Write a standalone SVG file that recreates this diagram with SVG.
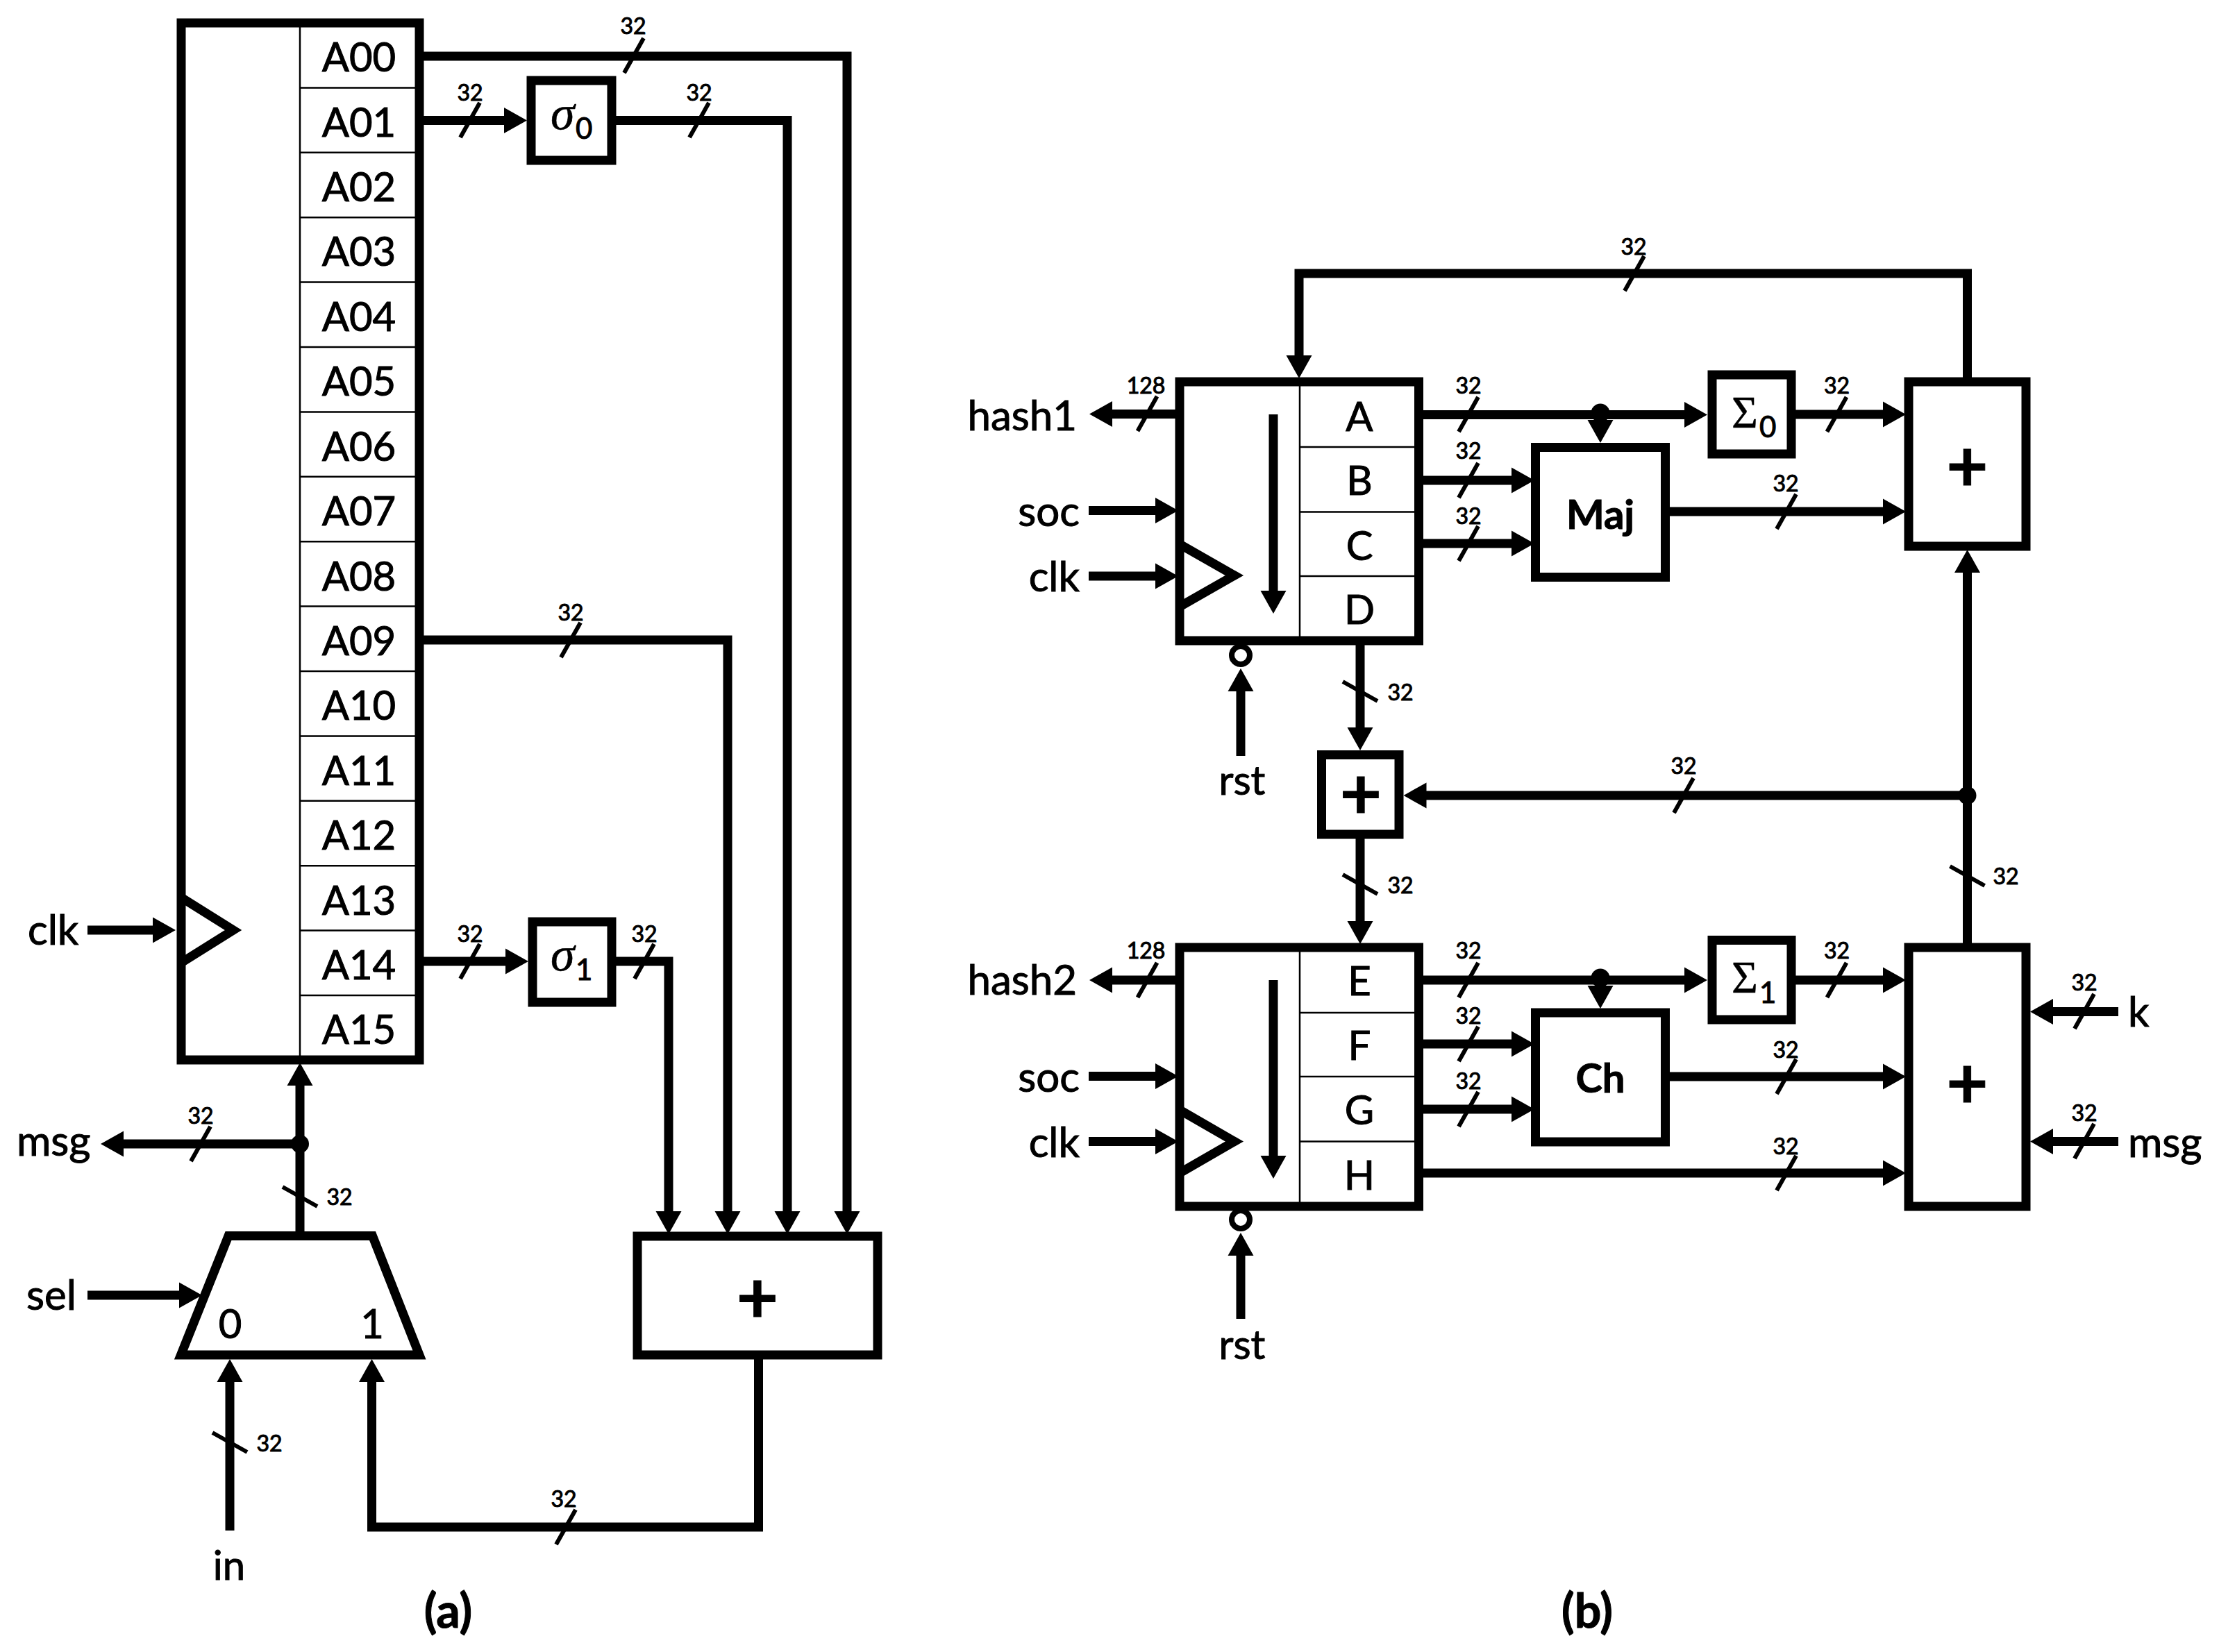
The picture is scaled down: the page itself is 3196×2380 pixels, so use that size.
<svg xmlns="http://www.w3.org/2000/svg" width="3196" height="2380" viewBox="0 0 3196 2380">
<style>
text{font-family:Lato,"Open Sans","Liberation Sans",sans-serif;fill:#000;stroke:#000;stroke-width:1px}
.box{fill:#fff;stroke:#000;stroke-width:13;stroke-linejoin:miter}
.thin{stroke:#000;stroke-width:2.5;fill:none}
.tri{fill:none;stroke:#000;stroke-width:13}
.w{fill:none;stroke:#000;stroke-width:13;stroke-linejoin:miter;marker-end:url(#ah)}
.tk{stroke:#000;stroke-width:6;fill:none}
.l{font-size:58px;text-anchor:middle}
.s{font-size:32px;text-anchor:middle}
.io{font-size:60px}
.e{text-anchor:end}
.b{font-weight:700;text-anchor:middle}
.dot{fill:#000}
.g{font-family:"Liberation Serif",serif;stroke-width:.5px}
.i{font-style:italic;font-size:70px}
.S{font-size:65px}
.u{font-size:42px}
</style>
<defs>
<marker id="ah" markerUnits="userSpaceOnUse" markerWidth="36" markerHeight="38" refX="13" refY="19" orient="auto"><path d="M0,0.500 L33,19 L0,37.500 z" fill="#000"/></marker>
<path id="f" class="tk" d="M-14,25 L14,-25"/>
<path id="r" class="tk" d="M-25,-14 L25,14"/>
</defs>
<rect width="3196" height="2380" fill="#fff"/>

<g id="connectors">
<path class="w" d="M598,81 H1220 V1758"/>
<path class="w" d="M604,173.500 H739"/>
<path class="w" d="M881,173.500 H1134 V1758"/>
<path class="w" d="M604,922 H1048 V1758"/>
<path class="w" d="M604,1385 H741"/>
<path class="w" d="M881,1385 H963 V1758"/>
<path class="w" d="M1092.500,1952 V2200 H535.500 V1978"/>
<path class="w" d="M331,2205 V1978"/>
<path class="w" d="M126,1866 H271"/>
<path class="w" d="M126,1340 H233"/>
<path class="w" d="M432,1648 H165"/>
<path class="w" d="M432,1780 V1551"/>
<path class="w" d="M395,1486 V101"/>
<circle class="dot" cx="432" cy="1648" r="13"/>

<path class="w" d="M2833.500,550 V394 H1871 V525"/>
<path class="w" d="M1699,596.500 H1589"/>
<path class="w" d="M1568,735.500 H1677"/>
<path class="w" d="M1568,830 H1677"/>
<path class="w" d="M1787,1089 V983"/>
<path class="w" d="M1959,923 V1061"/>
<path class="w" d="M2833.500,1365 V812"/>
<path class="w" d="M2833.500,1146 H2041.500"/>
<circle class="dot" cx="2833.500" cy="1146" r="13"/>
<path class="w" d="M2043.500,597.500 H2439"/>
<circle class="dot" cx="2305" cy="595" r="13.500"/>
<path class="w" d="M2305,596 V618"/>
<path class="w" d="M2581,597 H2725"/>
<path class="w" d="M2043.500,692 H2190"/>
<path class="w" d="M2043.500,783 H2190"/>
<path class="w" d="M2397,737 H2725"/>

<path class="w" d="M1959,1204 V1340"/>
<path class="w" d="M1699,1412 H1589"/>
<path class="w" d="M1568,1550.500 H1677"/>
<path class="w" d="M1568,1644.500 H1677"/>
<path class="w" d="M1787,1900 V1796"/>
<path class="w" d="M2043.500,1412 H2439"/>
<circle class="dot" cx="2305" cy="1409" r="13.500"/>
<path class="w" d="M2305,1410 V1433"/>
<path class="w" d="M2581,1412 H2725"/>
<path class="w" d="M2043.500,1504 H2190"/>
<path class="w" d="M2043.500,1598 H2190"/>
<path class="w" d="M2397,1551 H2725"/>
<path class="w" d="M2043.500,1690 H2725"/>
<path class="w" d="M3051,1457.500 H2944"/>
<path class="w" d="M3051,1644.500 H2944"/>
</g>

<g id="buswidths">
<use href="#f" x="913" y="80"/><text class="s" x="912" y="49">32</text>
<use href="#f" x="677" y="173"/><text class="s" x="677" y="145">32</text>
<use href="#f" x="1007" y="173"/><text class="s" x="1007" y="145">32</text>
<use href="#r" x="395" y="785"/><text class="s" x="335" y="798">32</text>
<use href="#f" x="822" y="922"/><text class="s" x="822" y="894">32</text>
<use href="#f" x="677" y="1385"/><text class="s" x="677" y="1357">32</text>
<use href="#f" x="928" y="1385"/><text class="s" x="928" y="1357">32</text>
<use href="#f" x="289" y="1648"/><text class="s" x="289" y="1619">32</text>
<use href="#r" x="432" y="1724"/><text class="s" x="489" y="1736">32</text>
<use href="#r" x="331" y="2078"/><text class="s" x="388" y="2091">32</text>
<use href="#f" x="815" y="2200"/><text class="s" x="812" y="2171">32</text>

<use href="#f" x="2354" y="394"/><text class="s" x="2353" y="367">32</text>
<use href="#f" x="1652.500" y="596"/><text class="s" x="1650.500" y="567">128</text>
<use href="#r" x="1836" y="741"/><text class="s" x="1773" y="752">32</text>
<use href="#f" x="2115" y="597"/><text class="s" x="2115" y="567">32</text>
<use href="#f" x="2115" y="692"/><text class="s" x="2115" y="661">32</text>
<use href="#f" x="2115" y="783"/><text class="s" x="2115" y="755">32</text>
<use href="#f" x="2645.500" y="597"/><text class="s" x="2645.500" y="567">32</text>
<use href="#f" x="2573" y="737"/><text class="s" x="2572" y="708">32</text>
<use href="#r" x="1959" y="996"/><text class="s" x="2017" y="1009">32</text>
<use href="#f" x="2425" y="1146"/><text class="s" x="2425" y="1115">32</text>
<use href="#r" x="1959" y="1274"/><text class="s" x="2017" y="1287">32</text>
<use href="#r" x="2833.500" y="1262"/><text class="s" x="2889" y="1274">32</text>
<use href="#f" x="1652.500" y="1412"/><text class="s" x="1650.500" y="1381">128</text>
<use href="#r" x="1836" y="1555"/><text class="s" x="1773" y="1568">32</text>
<use href="#f" x="2115" y="1412"/><text class="s" x="2115" y="1381">32</text>
<use href="#f" x="2115" y="1504"/><text class="s" x="2115" y="1475">32</text>
<use href="#f" x="2115" y="1598"/><text class="s" x="2115" y="1569">32</text>
<use href="#f" x="2645.500" y="1412"/><text class="s" x="2645.500" y="1381">32</text>
<use href="#f" x="2573" y="1551"/><text class="s" x="2572" y="1524">32</text>
<use href="#f" x="2573" y="1690"/><text class="s" x="2572" y="1663">32</text>
<use href="#f" x="3002" y="1457"/><text class="s" x="3002" y="1427">32</text>
<use href="#f" x="3002" y="1644"/><text class="s" x="3002" y="1615">32</text>
</g>

<g id="message-schedule">
<rect class="box" x="261" y="33" width="343" height="1494"/>
<path class="thin" d="M432,33 V1527 M432,126.400 H598 M432,219.800 H598 M432,313.200 H598 M432,406.600 H598 M432,500 H598 M432,593.400 H598 M432,686.800 H598 M432,780.200 H598 M432,873.600 H598 M432,967 H598 M432,1060.400 H598 M432,1153.800 H598 M432,1247.200 H598 M432,1340.600 H598 M432,1434 H598"/>
<path class="tri" d="M261,1293 L336,1340 L261,1387"/>
<text class="l" x="517" y="103">A00</text>
<text class="l" x="517" y="197">A01</text>
<text class="l" x="517" y="290">A02</text>
<text class="l" x="517" y="383">A03</text>
<text class="l" x="517" y="477">A04</text>
<text class="l" x="517" y="570">A05</text>
<text class="l" x="517" y="664">A06</text>
<text class="l" x="517" y="757">A07</text>
<text class="l" x="517" y="851">A08</text>
<text class="l" x="517" y="944">A09</text>
<text class="l" x="517" y="1037">A10</text>
<text class="l" x="517" y="1131">A11</text>
<text class="l" x="517" y="1224">A12</text>
<text class="l" x="517" y="1318">A13</text>
<text class="l" x="517" y="1411">A14</text>
<text class="l" x="517" y="1504">A15</text>
</g>
<g id="sigma0"><rect class="box" x="765" y="116" width="116" height="115"/>
<text class="g i" x="793" y="186">σ</text><text class="u" x="829" y="200">0</text></g>
<g id="sigma1"><rect class="box" x="767" y="1328" width="114" height="116"/>
<text class="g i" x="793" y="1398">σ</text><text class="u" x="829" y="1412">1</text></g>
<g id="adder-a"><rect class="box" x="918" y="1781" width="346" height="171"/><text class="b" x="1091" y="1906" style="font-size:104px">+</text></g>
<g id="mux"><path class="box" d="M329,1780.500 H536.500 L604,1952 H260.500 Z"/>
<text class="l" x="331.500" y="1928">0</text><text class="l" x="536" y="1928">1</text></g>
<g id="inputs-a">
<text class="io" x="40" y="1361">clk</text>
<text class="io" x="24" y="1665">msg</text>
<text class="io" x="38" y="1887">sel</text>
<text class="l" x="330" y="2276">in</text>
<text class="b" x="645.500" y="2345" style="font-size:68px">(a)</text>
</g>

<g id="register-abcd">
<rect class="box" x="1699" y="550" width="344.500" height="373"/>
<path class="thin" d="M1872,550 V923 M1872,644 H2037 M1872,737.500 H2037 M1872,830 H2037"/>
<path class="tri" d="M1699,784 L1778,829 L1699,874"/>
<path class="w" d="M1834,597 V864" />
<text class="l" x="1958" y="621">A</text><text class="l" x="1958" y="713">B</text><text class="l" x="1958" y="807">C</text><text class="l" x="1958" y="899">D</text>
<circle cx="1787" cy="944" r="13" fill="#fff" stroke="#000" stroke-width="8"/>
</g>
<g id="labels-b1">
<text class="io e" x="1551" y="620">hash1</text>
<text class="io e" x="1555" y="758">soc</text>
<text class="io e" x="1555" y="852">clk</text>
<text class="l" x="1789" y="1145">rst</text>
</g>
<g id="sum0"><rect class="box" x="2466" y="540" width="114" height="114"/>
<text class="g S" x="2494" y="616">Σ</text><text class="u" x="2534" y="630">0</text></g>
<g id="maj"><rect class="box" x="2211.500" y="644.500" width="187" height="187"/><text class="b" x="2305" y="762" style="font-size:58px">Maj</text></g>
<g id="adder-top"><rect class="box" x="2749" y="550" width="169" height="237"/><text class="b" x="2833.500" y="708" style="font-size:104px">+</text></g>
<g id="adder-mid"><rect class="box" x="1903.500" y="1087.500" width="111.500" height="114.500"/><text class="b" x="1960" y="1180" style="font-size:104px">+</text></g>

<g id="register-efgh">
<rect class="box" x="1699" y="1365" width="344.500" height="373"/>
<path class="thin" d="M1872,1365 V1738 M1872,1459 H2037 M1872,1551 H2037 M1872,1644.500 H2037"/>
<path class="tri" d="M1699,1599 L1778,1644.500 L1699,1690"/>
<path class="w" d="M1834,1412 V1678"/>
<text class="l" x="1958" y="1434">E</text><text class="l" x="1958" y="1527">F</text><text class="l" x="1958" y="1620">G</text><text class="l" x="1958" y="1714">H</text>
<circle cx="1787" cy="1757" r="13" fill="#fff" stroke="#000" stroke-width="8"/>
</g>
<g id="labels-b2">
<text class="io e" x="1551" y="1433">hash2</text>
<text class="io e" x="1555" y="1573">soc</text>
<text class="io e" x="1555" y="1667">clk</text>
<text class="l" x="1789" y="1958">rst</text>
<text class="io" x="3065" y="1479">k</text>
<text class="io" x="3065" y="1667">msg</text>
<text class="b" x="2286" y="2345" style="font-size:68px">(b)</text>
</g>
<g id="sum1"><rect class="box" x="2466" y="1354.500" width="114" height="114.500"/>
<text class="g S" x="2494" y="1430">Σ</text><text class="u" x="2534" y="1445">1</text></g>
<g id="ch"><rect class="box" x="2211.500" y="1459" width="187" height="186"/><text class="b" x="2305" y="1574" style="font-size:58px">Ch</text></g>
<g id="adder-bot"><rect class="box" x="2749" y="1365" width="169" height="373"/><text class="b" x="2833.500" y="1597" style="font-size:104px">+</text></g>
</svg>
